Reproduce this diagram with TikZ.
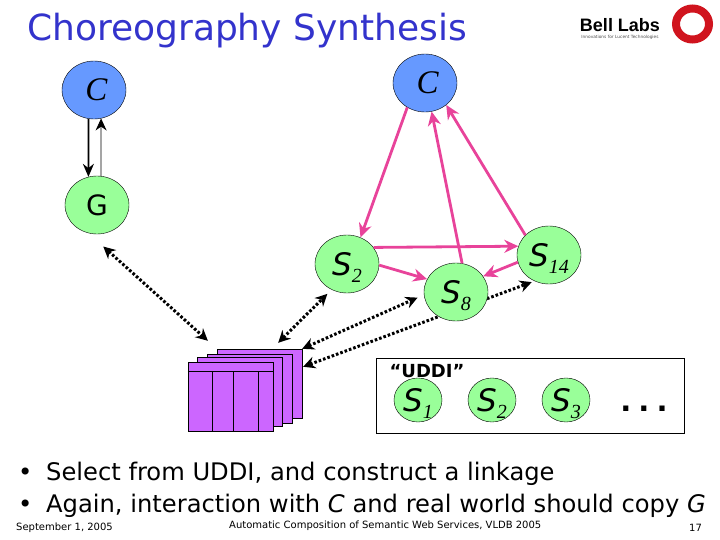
\documentclass[tikz,border=0pt]{standalone}
\usepackage{fontspec}
\setmainfont{DejaVu Sans}
\newfontfamily\labelserif{Liberation Serif}
\usepackage{xcolor}
\definecolor{titleblue}{HTML}{3333CC}
\definecolor{clientblue}{HTML}{6699FF}
\definecolor{peergreen}{HTML}{99FF99}
\definecolor{msgpink}{HTML}{E8439A}
\definecolor{pagepurple}{HTML}{CC66FF}
\definecolor{ringred}{HTML}{D0141E}
\usepackage{tikz}
\usetikzlibrary{arrows.meta, shapes.geometric, backgrounds}

\newcommand{\peerlabel}[1]{\makebox[0pt]{\raisebox{-11pt}[0pt][0pt]{{\fontsize{31}{32}\selectfont\itshape S}\raisebox{-7pt}{\labelserif\itshape\fontsize{20}{22}\selectfont #1}}}}

\tikzset{
  client/.style={draw, ellipse, fill=clientblue, minimum width=64pt, minimum height=58pt, inner sep=0pt,
                 font=\labelserif\itshape\fontsize{33}{36}\selectfont},
  peer/.style={draw, ellipse, fill=peergreen, minimum width=64pt, minimum height=58pt, inner sep=0pt},
  smallpeer/.style={draw, ellipse, fill=peergreen, minimum width=48pt, minimum height=44pt, inner sep=0pt},
  page/.style={draw, fill=pagepurple, minimum width=85pt, minimum height=69pt, inner sep=0pt},
  msg/.style={-{Stealth[length=14pt, width=13pt]}, msgpink, line width=2.8pt},
  lookup/.style={{Stealth[length=12pt, width=12pt]}-{Stealth[length=12pt, width=12pt]}, line width=3pt,
                 dash pattern=on 2.6pt off 2pt},
  plaintext/.style={inner sep=0pt, anchor=west}
}

\begin{document}
\begin{tikzpicture}[x=1pt, y=-1pt]
  \useasboundingbox (0,0) rectangle (720,540);

  \node[plaintext, text=titleblue, font=\fontsize{36}{40}\selectfont] (title) at (27,30.5) {Choreography Synthesis};

  % logo
  \node[inner sep=0pt, font=\fontsize{18}{20}\selectfont] (bell) at (620,25) {\fontspec{Liberation Sans}\bfseries Bell Labs};
  \node[inner sep=0pt, font=\fontsize{4.3}{5}\selectfont, text=black!70] (tagline) at (620,37.5) {Innovations for Lucent Technologies};
  \node[draw=ringred, ellipse, line width=8pt, minimum width=33pt, minimum height=31pt, inner sep=0pt] (ring) at (692.5,24) {};

  \node[client] (cleft) at (94,90) {\hspace{5pt}C};
  \node[peer, font=\fontsize{28}{32}\selectfont] (g) at (97,205) {G};
  \node[client] (cright) at (425,83) {\hspace{5pt}C};

  \node[peer] (s2) at (347,264) {\peerlabel{2}};
  \node[peer] (s8) at (456,292) {\peerlabel{8}};
  \node[peer] (s14) at (549,255) {\peerlabel{14}};

  % stack of pages
  \node[page] (paged) at (259.5,383.5) {};
  \node[page] (pagec) at (249.5,388.5) {};
  \node[page] (pageb) at (239.5,392) {};
  \node[page] (pagea) at (230.5,397) {};
  \draw (pagea.north west) ++(0,9) -- ++(85,0);
  \foreach \colx in {24,45,70}
    \draw (pagea.north west) ++(\colx,9) -- ++(0,60);

  % registry box
  \node[draw, fill=white, minimum width=308pt, minimum height=75pt, inner sep=0pt] (uddi) at (530,395.5) {};
  \node[inner sep=0pt, font=\fontsize{18}{20}\selectfont\bfseries] (uddilabel) at (427,371) {``UDDI''};
  \node[smallpeer] (reg1) at (418,400) {\peerlabel{1}};
  \node[smallpeer] (reg2) at (492,400) {\peerlabel{2}};
  \node[smallpeer] (reg3) at (566,400) {\peerlabel{3}};
  \node[inner sep=0pt, font=\fontsize{29}{32}\selectfont\bfseries] (more) at (644,409) {.\hspace{7pt}.\hspace{7pt}.};

  \draw[-{Stealth[length=13pt, width=11pt]}, line width=1.8pt] (cleft.259) -- (g.107);
  \draw[-{Stealth[length=12pt, width=11pt]}, line width=0.8pt] (g.82) -- (cleft.284);

  \draw[msg] (cright.234) -- (s2.63);
  \draw[msg] (s8.78) -- (cright.283);
  \draw[msg] (s14.140) -- (cright.314);
  \draw[msg] (s2.32) -- (s14.164);
  \draw[msg] (s2.358) -- (s8.156);
  \draw[msg] (s14.193) -- (s8.30);

  \begin{pgfonlayer}{background}
    \draw[lookup, shorten <=20pt, shorten >=12pt] (g.253) -- (paged.north west);
    \draw[lookup, shorten <=8.5pt, shorten >=6pt] (paged.70) -- (s2.239);
    \draw[lookup, shorten >=7pt] (paged.north east) -- (s8.185);
    \draw[lookup, shorten >=3pt, shorten <=1pt] (paged.21) -- (s14.241);
  \end{pgfonlayer}

  \node[plaintext, font=\fontsize{24.2}{28}\selectfont] (lineone) at (18,473.5) {•\hspace{6pt} Select from UDDI, and construct a linkage};
  \node[plaintext, font=\fontsize{24.2}{28}\selectfont] (linetwo) at (18,506) {•\hspace{6pt} Again, interaction with \textit{C} and real world should copy \textit{G}};

  \node[plaintext, font=\fontsize{10}{12}\selectfont] (footdate) at (16,527.5) {September 1, 2005};
  \node[plaintext, font=\fontsize{10}{12}\selectfont] (foottitle) at (229,526) {Automatic Composition of Semantic Web Services, VLDB 2005};
  \node[plaintext, font=\fontsize{10}{12}\selectfont] (footpage) at (689,527.5) {17};
\end{tikzpicture}
\end{document}
